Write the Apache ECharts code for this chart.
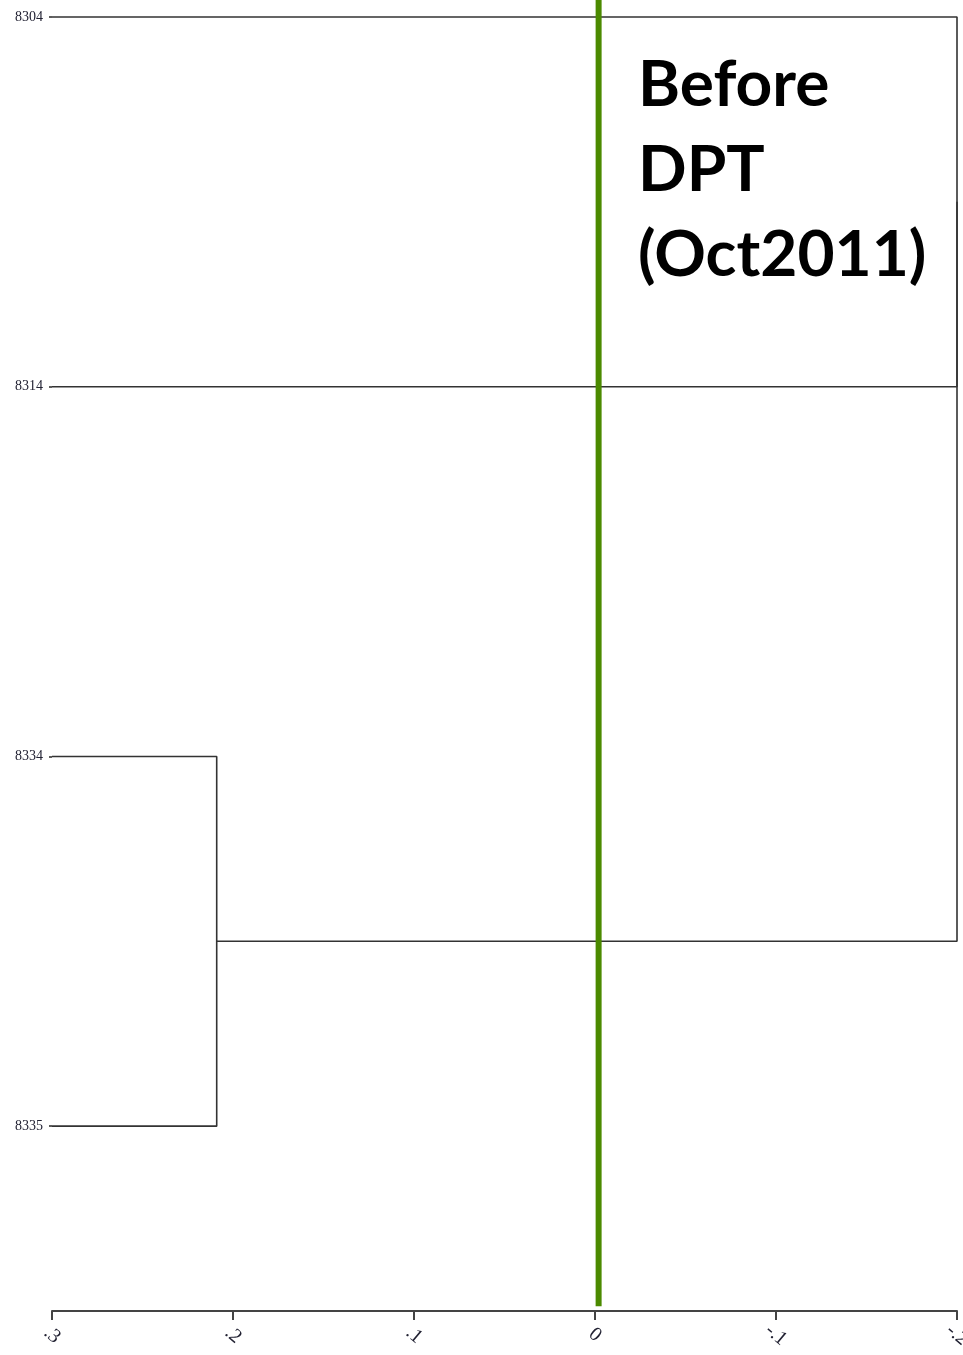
<!DOCTYPE html>
<html>
<head>
<meta charset="utf-8">
<script src="https://cdn.jsdelivr.net/npm/echarts@6/dist/echarts.min.js"></script>
<style>html,body{margin:0;padding:0;background:#fff}#c{width:963px;height:1355px}</style>
</head>
<body>
<div id="c"></div>
<script>
// Leaves (top to bottom) and their positions on the vertical axis
var leaves = ['8304', '8314', '8334', '8335'];
var leafPos = [4, 3, 2, 1];
// Merges: [child1, child2, height]; children are leaf indices or 'm<k>' for earlier merges
var mergeChildren = [[2, 3], [0, 1], ['m0', 'm1']];
var mergeHeights = [0.209, -0.2, -0.2];
// x-axis tick labels
var xTickValues = [0.3, 0.2, 0.1, 0, -0.1, -0.2];
var xTickLabels = ['.3', '.2', '.1', '0', '-.1', '-.2'];
// Reference line (green)
var refLineX = [-0.002];
var refLineY = [4.046, 0.513];
var noteText = ['Before', 'DPT', '(Oct2011)'];

var xStart = 0.3;
var nodes = [];
function nodeInfo(c) {
  if (typeof c === 'number') return {x: xStart, y: leafPos[c]};
  return nodes[parseInt(c.slice(1), 10)];
}
var series = [];
mergeChildren.forEach(function (ch, i) {
  var a = nodeInfo(ch[0]), b = nodeInfo(ch[1]), h = mergeHeights[i];
  nodes[i] = {x: h, y: (a.y + b.y) / 2};
  series.push({
    type: 'line', clip: false, symbol: 'none', silent: true,
    lineStyle: {color: '#333', width: 1.6},
    data: [[a.x, a.y], [h, a.y], [h, b.y], [b.x, b.y]]
  });
});
series.push({
  type: 'line', clip: false, symbol: 'none', silent: true,
  lineStyle: {color: '#4b8a00', width: 6},
  data: [[refLineX[0], refLineY[0]], [refLineX[0], refLineY[1]]]
});

var chart = echarts.init(document.getElementById('c'));
chart.setOption({
  animation: false,
  backgroundColor: '#fff',
  grid: {left: 52, right: 6, top: 17, bottom: 44, containLabel: false, outerBoundsMode: 'none'},
  xAxis: {
    type: 'value', min: -0.2, max: 0.3, interval: 0.1, inverse: true,
    axisLine: {onZero: false, lineStyle: {color: '#444', width: 2}},
    axisTick: {show: true, length: 9, lineStyle: {color: '#444', width: 2}},
    splitLine: {show: false},
    axisLabel: {
      rotate: -40, margin: 24, fontSize: 20, fontFamily: 'Liberation Serif', color: '#223',
      align: 'center', verticalAlign: 'middle', hideOverlap: false,
      formatter: function (v) {
        for (var i = 0; i < xTickValues.length; i++) {
          if (Math.abs(xTickValues[i] - v) < 1e-6) return xTickLabels[i];
        }
        return '';
      }
    }
  },
  yAxis: {
    type: 'value', min: 0.5, max: 4,
    axisLine: {show: false, onZero: false},
    splitLine: {show: false},
    axisTick: {show: true, length: 3, customValues: leafPos, lineStyle: {color: '#333', width: 1.6}},
    axisLabel: {
      customValues: leafPos, margin: 9, fontSize: 14, fontFamily: 'Liberation Serif', color: '#223',
      formatter: function (v) {
        var i = leafPos.indexOf(Math.round(v));
        return i >= 0 ? leaves[i] : '';
      }
    }
  },
  graphic: [{
    type: 'text', left: 638, top: 43,
    style: {
      text: noteText.join('\n'), fill: '#000', font: 'bold 64px Lato',
      lineHeight: 85
    }
  }],
  series: series
});
</script>
</body>
</html>
